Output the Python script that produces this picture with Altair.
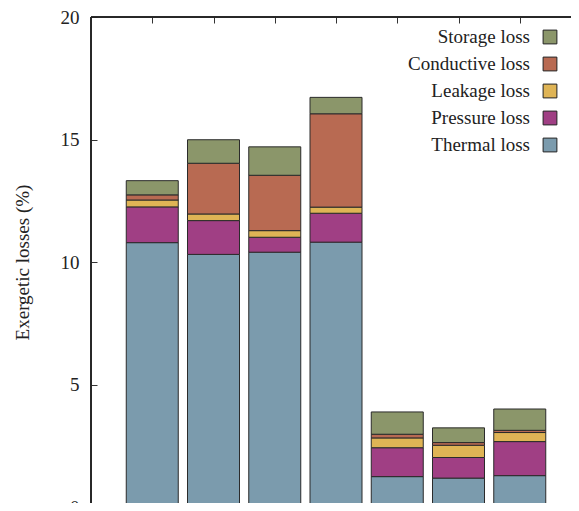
import altair as alt
import pandas as pd

positions = [1, 2, 3, 4, 5, 6, 7]
series = ["Thermal loss", "Pressure loss", "Leakage loss", "Conductive loss", "Storage loss"]
thermal = [10.79, 10.31, 10.40, 10.81, 1.24, 1.18, 1.28]
pressure = [1.46, 1.38, 0.61, 1.18, 1.18, 0.84, 1.39]
leakage = [0.28, 0.27, 0.27, 0.25, 0.40, 0.50, 0.37]
conductive = [0.21, 2.07, 2.26, 3.81, 0.15, 0.11, 0.09]
storage = [0.58, 0.96, 1.16, 0.67, 0.91, 0.60, 0.87]
colors = ["#7b9bad", "#a03f84", "#dfb455", "#b86a52", "#8b966a"]
y_ticks = [0, 5, 10, 15, 20]

values = [thermal, pressure, leakage, conductive, storage]
rows = []
for si, (name, vals) in enumerate(zip(series, values)):
    for p, v in zip(positions, vals):
        rows.append({"pos": p, "series": name, "value": v, "k": si})
df = pd.DataFrame(rows)

legend_order = list(reversed(series))
leg_df = pd.DataFrame({"series": legend_order})

FONT = "Liberation Serif"
PW, PH = 490, 490          # full plot frame (partly beyond the page edge)
VW, VH = 480, 486          # visible part of the view
color_scale = alt.Scale(domain=series, range=colors)
x_scale = alt.Scale(domain=[0, 8], range=[0, PW], padding=0)
y_scale = alt.Scale(domain=[0, 20], range=[PH, 0])

bars = alt.Chart(df).mark_bar(size=52, stroke="#2b2b2b", strokeWidth=1).encode(
    x=alt.X("pos:Q", scale=x_scale, axis=None),
    y=alt.Y("value:Q", stack="zero", scale=y_scale,
            axis=alt.Axis(values=y_ticks, orient="left", offset=-6, tickSize=6,
                          domain=False, grid=False, labelPadding=12,
                          labelFont=FONT, labelFontSize=19, labelColor="#222",
                          title="Exergetic losses (%)", titleFont=FONT,
                          titleFontSize=19, titleFontWeight="normal",
                          titleColor="#222", titlePadding=28,
                          tickColor="#333")),
    color=alt.Color("series:N", scale=color_scale, legend=None),
    order=alt.Order("k:Q", sort="ascending"),
)

ghost = alt.Chart(df).mark_bar(size=52, opacity=0).encode(
    x=alt.X("pos:Q", scale=x_scale,
            axis=alt.Axis(values=positions, orient="top", offset=-6, tickSize=6,
                          domain=False, grid=False, labels=False, title=None,
                          tickColor="#333")),
    y=alt.Y("value:Q", stack="zero", scale=y_scale, axis=None),
    order=alt.Order("k:Q", sort="ascending"),
)

frame_left = alt.Chart(leg_df).mark_rule(color="#222", strokeWidth=1).encode(
    x=alt.value(0), y=alt.value(0), y2=alt.value(PH))
frame_top = alt.Chart(leg_df).mark_rule(color="#222", strokeWidth=1).encode(
    y=alt.value(0), x=alt.value(0), x2=alt.value(PW))

leg_y = alt.Y("series:N", sort=legend_order,
              scale=alt.Scale(range=[20, 128], padding=0), axis=None)

leg_text = alt.Chart(leg_df).mark_text(
    align="right", baseline="middle", font=FONT, fontSize=19, color="#222"
).encode(x=alt.value(439), y=leg_y, text="series:N")

leg_sw = alt.Chart(leg_df).mark_point(
    shape="square", filled=True, size=190, stroke="#222", strokeWidth=1, opacity=1
).encode(
    x=alt.value(459), y=leg_y,
    fill=alt.Color("series:N", scale=color_scale, legend=None),
)

chart = alt.layer(bars, ghost, frame_left, frame_top, leg_text, leg_sw).resolve_scale(
    y="independent"
).resolve_axis(x="independent", y="independent").properties(
    width=VW, height=VH,
    autosize=alt.AutoSizeParams(type="none"),
    padding={"left": 83, "top": 9, "right": 0, "bottom": 0},
).configure_view(stroke=None)

chart.save("out.html", embed_options={"renderer": "svg", "actions": False})
